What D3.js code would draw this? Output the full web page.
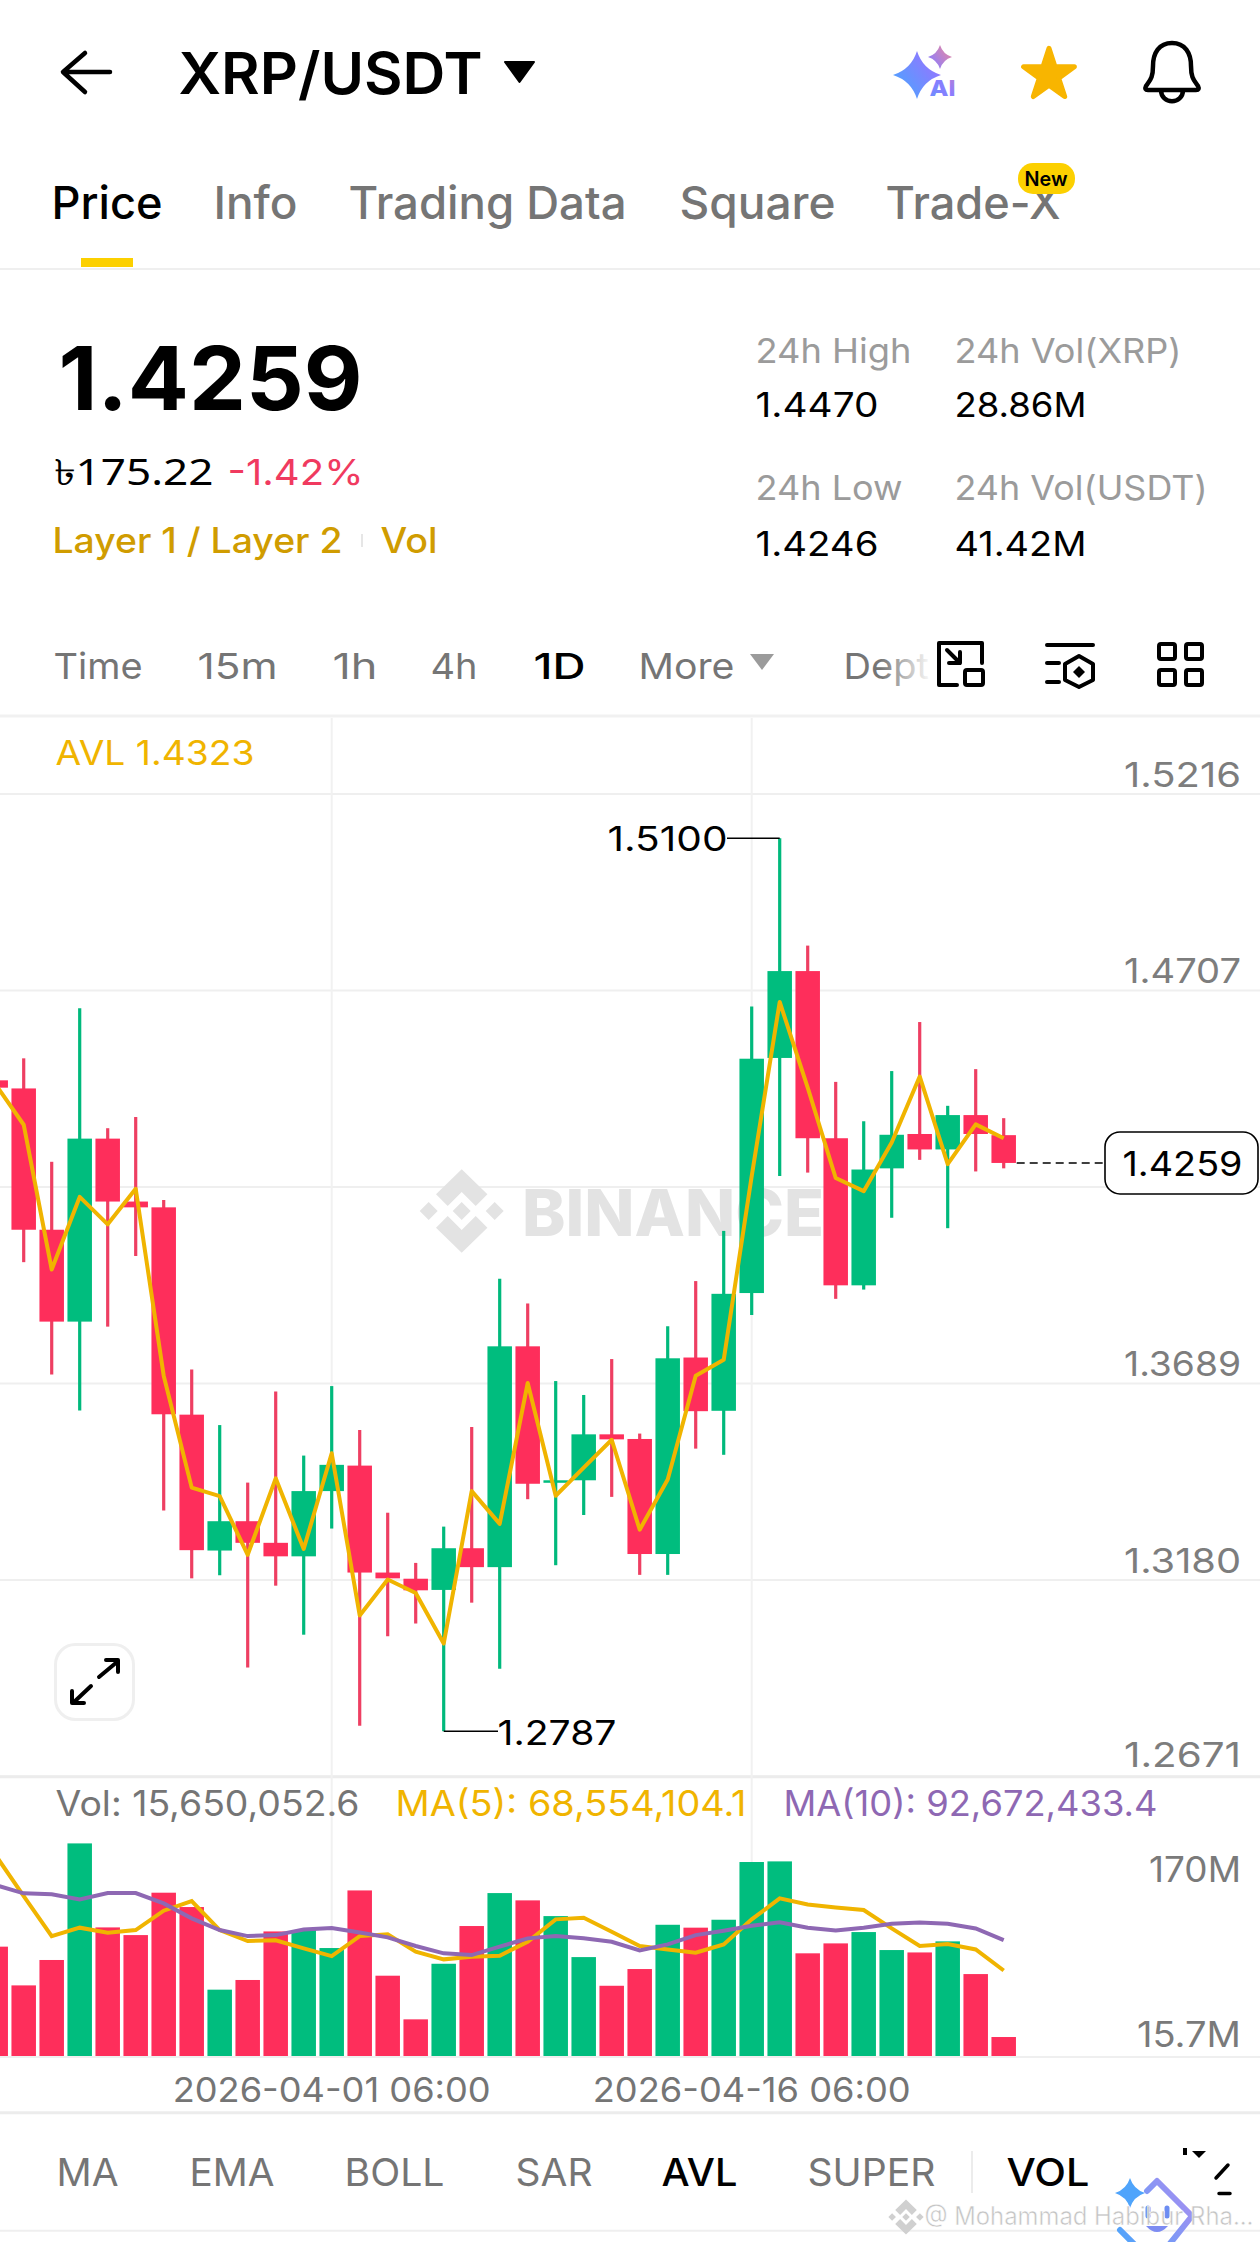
<!DOCTYPE html>
<html>
<head>
<meta charset="utf-8">
<script src="https://cdn.jsdelivr.net/npm/d3@7/dist/d3.min.js"></script>
<style>
  html, body { margin: 0; padding: 0; background: #fff; }
  svg { display: block; }
  text { font-family: Inter, "Noto Sans", sans-serif; }
</style>
</head>
<body>
<svg id="chart" width="1260" height="2242" viewBox="0 0 1260 2242"></svg>
<script>
// daily candles, first one is mostly cut off by the left edge
const days = ['03-20','03-21','03-22','03-23','03-24','03-25','03-26','03-27','03-28','03-29','03-30','03-31',
  '04-01','04-02','04-03','04-04','04-05','04-06','04-07','04-08','04-09','04-10','04-11','04-12','04-13','04-14',
  '04-15','04-16','04-17','04-18','04-19','04-20','04-21','04-22','04-23','04-24','04-25'];
const opens = [1.4473,1.4452,1.4086,1.3848,1.4322,1.4159,1.4144,1.3607,1.3255,1.3331,1.3275,1.3240,
  1.3409,1.3475,1.3198,1.3182,1.3153,1.3261,1.3212,1.3784,1.3431,1.3437,1.3556,1.3544,1.3246,1.3755,
  1.3617,1.3922,1.4531,1.4756,1.4323,1.3942,1.4245,1.4334,1.4294,1.4383,1.4331];
const closes = [1.4454,1.4086,1.3848,1.4322,1.4159,1.4144,1.3608,1.3256,1.3331,1.3275,1.3240,1.3409,
  1.3477,1.3198,1.3183,1.3152,1.3261,1.3212,1.3784,1.3428,1.3437,1.3556,1.3543,1.3246,1.3753,1.3616,
  1.3920,1.4529,1.4756,1.4323,1.3942,1.4242,1.4332,1.4294,1.4383,1.4334,1.4259];
const highs = [1.4473,1.4530,1.4262,1.4660,1.4349,1.4378,1.4163,1.3724,1.3580,1.3431,1.3667,1.3501,
  1.3681,1.3567,1.3353,1.3223,1.3317,1.3575,1.3959,1.3895,1.3694,1.3658,1.3751,1.3558,1.3836,1.3953,
  1.4083,1.4664,1.5100,1.4822,1.4469,1.4367,1.4497,1.4624,1.4407,1.4502,1.4375];
const lows = [1.4454,1.4002,1.3711,1.3618,1.3835,1.4018,1.3359,1.3183,1.3191,1.2952,1.3164,1.3037,
  1.3312,1.2801,1.3033,1.3066,1.2787,1.3120,1.2949,1.3388,1.3217,1.3347,1.3394,1.3192,1.3192,1.3519,
  1.3503,1.3865,1.4225,1.4234,1.3907,1.3931,1.4117,1.4267,1.4090,1.4237,1.4245];
const avl = [1.4462,1.4358,1.3983,1.4171,1.4100,1.4192,1.3708,1.3418,1.3396,1.3244,1.3442,1.3259,
  1.3507,1.3087,1.3180,1.3145,1.3014,1.3409,1.3324,1.3689,1.3397,1.3470,1.3542,1.3309,1.3439,1.3708,
  1.3749,1.4225,1.4676,1.4454,1.4220,1.4186,1.4312,1.4483,1.4256,1.4359,1.4323];

// volume, millions
const vols = [87.5,56.7,76.9,169.6,102.8,96.7,130.4,119,53.3,61,99.6,100.7,
  86.4,132.2,64.4,29.7,73.9,103.9,130.1,124.3,111.8,79.2,56.4,69.7,104.9,102.6,
  108.9,154.8,155.3,82.2,90.1,99.1,84.8,82.9,91.7,65.7,15.65];
const ma5 = [160.1,127.7,95.9,102.6,98.6,100.7,116.1,123.8,100.7,92,92.5,86.1,
  80,95.9,97.3,83.5,77.4,79.5,80.3,91.4,109.2,110.5,99.4,88,85.3,82.7,
  89.3,109.2,125.9,121.1,118.7,116.6,102,88,89.6,85.3,68.55];
const ma10 = [136.5,129.9,129.1,125.1,130.1,130.1,121.9,110,100.7,95.9,96.7,101.2,
  102.3,98.8,94.9,88,82.2,80.8,87.5,94.1,95.9,94.1,91.4,84.5,89.3,96.7,
  100.2,104.1,106.8,102.6,100.4,102.6,105.7,106.8,105.7,102,92.67];

const priceTicks = [1.5216, 1.4707, 1.4198, 1.3689, 1.3180, 1.2671];
const volTicks = [170, 15.65];
const volTickLabels = ['170M', '15.7M'];
const dateTicks = ['04-01', '04-16'];
const dateTickLabels = ['2026-04-01 06:00', '2026-04-16 06:00'];

const RED = '#fe2e5b', GREEN = '#00bd7e', YELLOW = '#f0b400', PURPLE = '#8e68b3';
const GRID = '#efefef', GRAY = '#757575', LIGHT = '#9b9b9b';

const svg = d3.select('#chart');
svg.append('rect').attr('width', 1260).attr('height', 2242).attr('fill', '#fff');

const x = d3.scaleBand().domain(days).range([-18.3, 1017.7]).paddingInner(0.125).paddingOuter(0.0625);
const cx = d => x(d) + x.bandwidth() / 2;
const y = d3.scaleLinear().domain([1.5216, 1.2671]).range([793.5, 1776]);
const yVol = d3.scaleLinear().domain([0, 170]).range([2056.7, 1842.9]);

// text stretched to the width measured on the picture, glyph bearings eat about 1.5px a side
function t(x0, x1, base, str, size, fill, weight) {
  return svg.append('text').attr('x', x0 - 1.5).attr('y', base).text(str)
    .attr('font-size', size).attr('fill', fill).attr('font-weight', weight || 400)
    .attr('textLength', x1 - x0 + 3).attr('lengthAdjust', 'spacingAndGlyphs');
}
function hline(y0, x0, x1, w, c) {
  svg.append('line').attr('x1', x0).attr('x2', x1).attr('y1', y0).attr('y2', y0)
    .attr('stroke', c).attr('stroke-width', w);
}
function sparkle(px, py, r, fill) {
  const k = r * 0.24;
  svg.append('path').attr('fill', fill).attr('d',
    `M${px},${py - r}Q${px + k},${py - k} ${px + r},${py}Q${px + k},${py + k} ${px},${py + r}` +
    `Q${px - k},${py + k} ${px - r},${py}Q${px - k},${py - k} ${px},${py - r}Z`);
}
function logo(px, py, s, fill, parent) {
  const g = (parent || svg).append('g').attr('transform', `translate(${px},${py}) scale(${s})`).attr('fill', fill);
  const top = 'M0,-41.7L25.7,-16.7L14,-5L0,-19L-14,-5L-25.7,-16.7Z';
  g.append('path').attr('d', top);
  g.append('path').attr('d', top).attr('transform', 'scale(1,-1)');
  [-33, 0, 33].forEach(o => g.append('path').attr('d', `M${o - 9},0L${o},-9L${o + 9},0L${o},9Z`));
}
const stroked = (sel, w) => sel.attr('fill', 'none').attr('stroke', '#000').attr('stroke-width', w)
  .attr('stroke-linecap', 'round').attr('stroke-linejoin', 'round');

// Header

stroked(svg.append('path'), 4.5).attr('d', 'M110,72H64M85,53L63,72L85,92');
t(180, 481, 94, 'XRP/USDT', 58, '#000', 600);
svg.append('path').attr('d', 'M505,62H534L519.5,82Z').attr('fill', '#000').attr('stroke', '#000')
  .attr('stroke-width', 2).attr('stroke-linejoin', 'round');

const defs = svg.append('defs');
const aiGrad = defs.append('linearGradient').attr('id', 'aiGrad').attr('gradientUnits', 'userSpaceOnUse')
  .attr('x1', 896).attr('x2', 956).attr('y1', 95).attr('y2', 50);
aiGrad.append('stop').attr('offset', 0).attr('stop-color', '#49a6ff');
aiGrad.append('stop').attr('offset', 0.6).attr('stop-color', '#8a7cff');
aiGrad.append('stop').attr('offset', 1).attr('stop-color', '#f08a9a');
sparkle(917, 75, 24, 'url(#aiGrad)');
sparkle(940, 57, 12, 'url(#aiGrad)');
t(931, 954, 96, 'AI', 22, 'url(#aiGrad)', 800);

svg.append('path').attr('d', d3.symbol(d3.symbolStar, 800)()).attr('transform', 'translate(1049,75)')
  .attr('fill', '#f8b500').attr('stroke', '#f8b500').attr('stroke-width', 5).attr('stroke-linejoin', 'round');
stroked(svg.append('path'), 4.5)
  .attr('d', 'M1172,43C1159,43 1153,53 1153,66C1153,78 1150,80 1146,86Q1144,90 1148,90H1196Q1200,90 1198,86C1194,80 1191,78 1191,66C1191,53 1185,43 1172,43Z M1161,90C1161,105 1183,105 1183,90');

// Tabs

t(53, 161, 218.5, 'Price', 45, '#000', 500);
t(215, 296, 218.5, 'Info', 45, GRAY, 500);
t(350, 625, 218.5, 'Trading Data', 45, GRAY, 500);
t(681, 834, 218.5, 'Square', 45, GRAY, 500);
t(887, 1059, 218.5, 'Trade-X', 45, GRAY, 500);
svg.append('rect').attr('x', 1018).attr('y', 163).attr('width', 57).attr('height', 31).attr('rx', 15).attr('fill', '#fcd000');
t(1026, 1066, 186, 'New', 20, '#000', 600);
svg.append('rect').attr('x', 81).attr('y', 258).attr('width', 52).attr('height', 9).attr('fill', '#fcd000');
hline(269, 0, 1260, 2, GRID);

// Price block

t(60, 361, 410, '1.4259', 88, '#000', 700);
t(55, 212, 485, '৳175.22', 36, '#000', 400).style('font-family', '"Noto Sans", Inter, sans-serif');
t(229, 362, 485, '-1.42%', 36, '#f03a5f', 400);
t(54, 341, 553, 'Layer 1 / Layer 2', 35, '#d09c00', 500);
hline(540.5, 361, 363, 13, '#e6e6e6');
t(382, 436, 553, 'Vol', 35, '#d09c00', 500);
t(757, 910, 363, '24h High', 34, LIGHT);
t(956, 1180, 363, '24h Vol(XRP)', 34, LIGHT);
t(757, 877, 417, '1.4470', 34, '#000');
t(956, 1085, 417, '28.86M', 34, '#000');
t(757, 901, 500, '24h Low', 34, LIGHT);
t(956, 1206, 500, '24h Vol(USDT)', 34, LIGHT);
t(757, 877, 555.5, '1.4246', 34, '#000');
t(956, 1085, 555.5, '41.42M', 34, '#000');

// Interval row

t(55, 141, 678.5, 'Time', 36, GRAY);
t(199, 276, 678.5, '15m', 36, GRAY);
t(334, 376, 678.5, '1h', 36, GRAY);
t(432, 476, 678.5, '4h', 36, GRAY);
t(535, 584, 678.5, '1D', 36, '#000', 500);
t(640, 733, 678.5, 'More', 36, GRAY);
svg.append('path').attr('d', 'M750,654H774L762,670Z').attr('fill', LIGHT);
const fade = defs.append('linearGradient').attr('id', 'fade').attr('gradientUnits', 'userSpaceOnUse')
  .attr('x1', 880).attr('x2', 932).attr('y1', 0).attr('y2', 0);
fade.append('stop').attr('offset', 0).attr('stop-color', GRAY);
fade.append('stop').attr('offset', 1).attr('stop-color', '#fff');
t(845, 950, 678.5, 'Depth', 36, 'url(#fade)');

stroked(svg.append('path'), 4).attr('d', 'M982,663V643H939V685H957M947,650L960,663M960,652V663H949');
stroked(svg.append('rect'), 4).attr('x', 965).attr('y', 670).attr('width', 18).attr('height', 15).attr('rx', 2);
stroked(svg.append('path'), 4).attr('d', 'M1047,645H1093M1047,663H1059M1047,682H1059M1079,656L1093,664V680L1079,687L1065,680V664Z');
svg.append('path').attr('d', 'M1079,666L1085,672L1079,678L1073,672Z').attr('fill', '#000');
[[1157, 642], [1184, 642], [1157, 668], [1184, 668]].forEach(c => {
  stroked(svg.append('rect'), 4).attr('x', c[0] + 2).attr('y', c[1] + 2).attr('width', 16).attr('height', 15).attr('rx', 2);
});
hline(716, 0, 1260, 3, '#f1f1f1');

// Price pane

const priceAxis = svg.append('g').attr('transform', 'translate(1260,0)')
  .call(d3.axisRight(y).tickValues(priceTicks).tickSize(-1260).tickFormat(d3.format('.4f')));
priceAxis.select('.domain').remove();
priceAxis.selectAll('line').attr('stroke', GRID).attr('stroke-width', 2);
priceAxis.selectAll('text').attr('x', -19).attr('y', 0).attr('dy', d => d === 1.2671 ? -9.5 : -7.5).attr('text-anchor', 'end')
  .attr('font-size', 34).attr('font-family', null).attr('fill', '#7d7d7d')
  .attr('textLength', 117).attr('lengthAdjust', 'spacingAndGlyphs')
  .filter(d => d === 1.4198).remove();
hline(1776.7, 0, 1260, 3, '#ececec');

// vertical date lines reach down to the volume baseline
const dateAxis = svg.append('g').attr('transform', 'translate(0,2102)')
  .call(d3.axisBottom(x).tickValues(dateTicks).tickSize(0).tickFormat((d, i) => dateTickLabels[i]));
dateAxis.select('.domain').remove();
dateAxis.selectAll('text').attr('y', 0).attr('dy', 0).attr('font-size', 34).attr('font-family', null).attr('fill', GRAY)
  .attr('textLength', 318).attr('lengthAdjust', 'spacingAndGlyphs');
dateAxis.selectAll('line').attr('y1', -1384).attr('y2', -45).attr('stroke', '#f1f1f1').attr('stroke-width', 2);

// Watermark

logo(461.7, 1211, 1, '#e3e3e3');
svg.append('text').attr('x', 522).attr('y', 1236).text('BINANCE').attr('fill', '#e3e3e3')
  .attr('font-size', 65).attr('font-weight', 800).attr('textLength', 302).attr('lengthAdjust', 'spacingAndGlyphs');

// Candles

const idx = days.map((d, i) => i);
const up = i => closes[i] >= opens[i];
svg.append('g').selectAll('line').data(idx).join('line')
  .attr('x1', i => cx(days[i])).attr('x2', i => cx(days[i]))
  .attr('y1', i => y(highs[i])).attr('y2', i => y(lows[i]))
  .attr('stroke', i => up(i) ? '#00b97c' : '#ee3f62').attr('stroke-width', 3.2);
svg.append('g').selectAll('rect').data(idx).join('rect')
  .attr('x', i => x(days[i])).attr('width', x.bandwidth())
  .attr('y', i => y(Math.max(opens[i], closes[i])))
  .attr('height', i => Math.max(2.5, Math.abs(y(opens[i]) - y(closes[i]))))
  .attr('fill', i => up(i) ? GREEN : RED);

const avlLine = d3.line().x((d, i) => cx(days[i])).y(d => y(d));
svg.append('path').attr('d', avlLine(avl)).attr('fill', 'none').attr('stroke', YELLOW).attr('stroke-width', 4).attr('stroke-linejoin', 'round');

t(57, 253, 765, 'AVL 1.4323', 34, YELLOW);

// High / low notes

const hiIdx = highs.indexOf(d3.max(highs)), loIdx = lows.indexOf(d3.min(lows));
const note = (i, v, x1) => svg.append('line').attr('x1', cx(days[i])).attr('x2', x1).attr('y1', y(v)).attr('y2', y(v))
  .attr('stroke', '#000').attr('stroke-width', 1.4);
note(hiIdx, highs[hiIdx], 727);
t(609, 726, y(highs[hiIdx]) + 13, d3.format('.4f')(highs[hiIdx]), 34, '#000');
note(loIdx, lows[loIdx], 498);
t(499, 615, y(lows[loIdx]) + 13.5, d3.format('.4f')(lows[loIdx]), 34, '#000');

// Last price

const lastPrice = closes[closes.length - 1];
svg.append('line').attr('x1', x.range()[1] - 1).attr('x2', 1105).attr('y1', y(lastPrice)).attr('y2', y(lastPrice))
  .attr('stroke', '#000').attr('stroke-width', 1.6).attr('stroke-dasharray', '8 5');
svg.append('rect').attr('x', 1105).attr('y', y(lastPrice) - 31).attr('width', 153).attr('height', 62).attr('rx', 15)
  .attr('fill', '#fff').attr('stroke', '#000').attr('stroke-width', 1.6);
t(1124, 1241, y(lastPrice) + 13, d3.format('.4f')(lastPrice), 34, '#000');

// Expand button

svg.append('rect').attr('x', 55.5).attr('y', 1644.5).attr('width', 78).attr('height', 75).attr('rx', 20)
  .attr('fill', '#fff').attr('stroke', '#efefef').attr('stroke-width', 3);
stroked(svg.append('path'), 4).attr('d', 'M99,1677L117,1662M106,1660H118V1672M91,1686L73,1703M72,1691V1703H84');

// Volume pane

t(57, 358, 1815.7, 'Vol: 15,650,052.6', 35, GRAY);
t(397, 745, 1815.7, 'MA(5): 68,554,104.1', 35, YELLOW);
t(785, 1156, 1815.7, 'MA(10): 92,672,433.4', 35, PURPLE);

svg.append('g').selectAll('rect').data(idx).join('rect')
  .attr('x', i => x(days[i])).attr('width', x.bandwidth())
  .attr('y', i => yVol(vols[i])).attr('height', i => yVol(0) - yVol(vols[i]))
  .attr('fill', i => up(i) ? GREEN : RED);
const volLine = d3.line().x((d, i) => cx(days[i])).y(d => yVol(d));
svg.append('path').attr('d', volLine(ma5)).attr('fill', 'none').attr('stroke', YELLOW).attr('stroke-width', 4);
svg.append('path').attr('d', volLine(ma10)).attr('fill', 'none').attr('stroke', PURPLE).attr('stroke-width', 4);

const volAxis = svg.append('g').attr('transform', 'translate(1241,0)')
  .call(d3.axisRight(yVol).tickValues(volTicks).tickSize(0).tickFormat((d, i) => volTickLabels[i]));
volAxis.select('.domain').remove();
volAxis.selectAll('text').attr('x', 0).attr('y', 0).attr('dy', d => d === 170 ? 39 : 9)
  .attr('text-anchor', 'end').attr('font-size', 35).attr('font-family', null).attr('fill', '#7a7a7a')
  .attr('textLength', d => d === 170 ? 92 : 104).attr('lengthAdjust', 'spacingAndGlyphs');

hline(2057, 0, 1260, 2, GRID);
hline(2112.7, 0, 1260, 3, '#ececec');

// Indicator tabs

t(58, 117, 2186, 'MA', 38, GRAY);
t(191, 273, 2186, 'EMA', 38, GRAY);
t(346, 443, 2186, 'BOLL', 38, GRAY);
t(517, 591, 2186, 'SAR', 38, GRAY);
t(663, 736, 2186, 'AVL', 38, '#000', 500);
t(809, 934, 2186, 'SUPER', 38, GRAY);
svg.append('line').attr('x1', 972).attr('x2', 972).attr('y1', 2151).attr('y2', 2193).attr('stroke', '#ececec').attr('stroke-width', 2);
t(1008, 1088, 2186, 'VOL', 38, '#000', 500);
hline(2230.7, 0, 1260, 2, GRID);

// Scraps of the settings icon, covered by the floating helper and the repost mark

svg.append('rect').attr('x', 1183).attr('y', 2148).attr('width', 4).attr('height', 7).attr('fill', '#000');
svg.append('path').attr('d', 'M1192,2151H1206L1199,2158Z').attr('fill', '#000');
stroked(svg.append('path'), 3.5).attr('d', 'M1216,2178L1228,2165M1219,2193.5H1230');

const helpGrad = defs.append('linearGradient').attr('id', 'helpGrad').attr('gradientUnits', 'userSpaceOnUse')
  .attr('x1', 1120).attr('x2', 1200).attr('y1', 2242).attr('y2', 2190);
helpGrad.append('stop').attr('offset', 0).attr('stop-color', '#4fa4fb');
helpGrad.append('stop').attr('offset', 1).attr('stop-color', '#b08cf0');
sparkle(1130, 2193, 15, '#4fa4fb');
svg.append('path').attr('d', 'M1147,2191L1157,2181L1192,2216L1168,2246M1120,2230L1136,2246').attr('fill', 'none')
  .attr('stroke', 'url(#helpGrad)').attr('stroke-width', 6).attr('stroke-linecap', 'round').attr('stroke-linejoin', 'round');
svg.append('path').attr('d', 'M1148,2208V2216M1167,2208V2216').attr('stroke', '#6d8df2').attr('stroke-width', 5).attr('stroke-linecap', 'round');
svg.append('path').attr('d', 'M1146,2226Q1157,2238 1168,2226Z').attr('fill', '#7d8cf2');

logo(906, 2217, 0.42, '#d0d0d0');
t(926, 1252, 2225, '@ Mohammad Habibur Rha...', 25, '#c4c4c4').attr('stroke', '#fff').attr('stroke-width', 0.5);
</script>
</body>
</html>
